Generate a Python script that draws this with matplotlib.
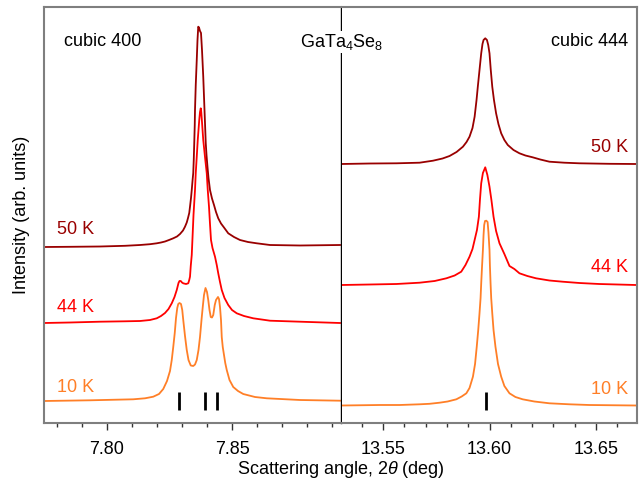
import matplotlib
matplotlib.use("Agg")
import matplotlib.pyplot as plt

plt.rcParams['font.family'] = ['Liberation Sans', 'DejaVu Sans']
plt.rcParams['mathtext.fontset'] = 'custom'
plt.rcParams['mathtext.rm'] = 'Liberation Sans'
plt.rcParams['mathtext.it'] = 'Liberation Sans:italic'

# ---- cubic 400 reflection ----
tth_400_10K = [7.7748, 7.7932, 7.8105, 7.8152, 7.8185, 7.8208, 7.8225, 7.8240, 7.8252, 7.8259,
               7.8265, 7.8271, 7.8276, 7.8281, 7.8285, 7.8290, 7.8296, 7.8301, 7.8305, 7.8312,
               7.8319, 7.8326, 7.8335, 7.8345, 7.8352, 7.8359, 7.8366, 7.8372, 7.8378, 7.8383,
               7.8388, 7.8394, 7.8400, 7.8405, 7.8410, 7.8415, 7.8420, 7.8425, 7.8431, 7.8436,
               7.8444, 7.8448, 7.8452, 7.8456, 7.8459, 7.8463, 7.8468, 7.8473, 7.8479, 7.8490,
               7.8505, 7.8524, 7.8545, 7.8592, 7.8639, 7.8772, 7.8932]
int_400_10K = [0, 0.7, 1.7, 2.7, 4.3, 7, 12, 20, 30, 41,
               54, 68, 83, 93, 97, 98, 97, 91, 81, 65,
               51, 41, 35.5, 35, 36.5, 41, 51, 64, 81, 94,
               106, 113, 109, 101, 91, 84, 83.5, 86, 96, 101,
               104, 102, 94, 81, 64, 54, 46, 38, 31, 21,
               14, 10, 7, 4, 2.7, 1, 0.3]

tth_400_44K = [7.7748, 7.7852, 7.7972, 7.8072, 7.8132, 7.8172, 7.8199, 7.8216, 7.8232, 7.8246,
               7.8259, 7.8270, 7.8279, 7.8286, 7.8290, 7.8295, 7.8300, 7.8305, 7.8316, 7.8325,
               7.8329, 7.8332, 7.8335, 7.8339, 7.8342, 7.8346, 7.8352, 7.8355, 7.8359, 7.8363,
               7.8366, 7.8369, 7.8372, 7.8375, 7.8377, 7.8380, 7.8385, 7.8392, 7.8399, 7.8403,
               7.8408, 7.8412, 7.8416, 7.8422, 7.8432, 7.8439, 7.8445, 7.8452, 7.8459, 7.8470,
               7.8485, 7.8500, 7.8519, 7.8548, 7.8585, 7.8652, 7.8772, 7.8932]
int_400_44K = [0, 0.5, 1.3, 1.7, 2, 3, 4.7, 7, 10, 14,
               19.7, 26, 33, 40, 42, 42, 40.5, 39.7, 39, 39.7,
               43, 46.3, 57, 68, 85, 108, 133, 150, 166.3, 183,
               193, 203, 211, 214.7, 211, 201, 183, 166, 149.7, 133,
               116.3, 99, 83, 75, 66.3, 58, 49.7, 41, 33, 25,
               18, 13, 9.7, 7, 4.7, 2.3, 1.3, 0]

tth_400_50K = [7.7748, 7.7852, 7.7972, 7.8072, 7.8132, 7.8172, 7.8199, 7.8216, 7.8232, 7.8248,
               7.8265, 7.8280, 7.8292, 7.8304, 7.8312, 7.8319, 7.8324, 7.8329, 7.8332, 7.8336,
               7.8339, 7.8342, 7.8345, 7.8347, 7.8349, 7.8351, 7.8352, 7.8355, 7.8359, 7.8362,
               7.8365, 7.8368, 7.8372, 7.8376, 7.8380, 7.8385, 7.8390, 7.8395, 7.8398, 7.8402,
               7.8406, 7.8412, 7.8420, 7.8428, 7.8436, 7.8445, 7.8456, 7.8468, 7.8485, 7.8508,
               7.8532, 7.8564, 7.8599, 7.8652, 7.8772, 7.8932]
int_400_50K = [-1, -0.8, -0.5, 0.2, 1, 1.8, 2.7, 3.5, 4.5, 6,
               7.7, 9.5, 12, 15.5, 19.3, 23.5, 28, 33, 39.3, 48,
               56, 65, 73, 86, 103, 121, 136, 161, 186, 206,
               219.3, 218.5, 215, 213, 196, 169.3, 136, 103, 91, 79,
               68, 56, 47.5, 41, 34, 27.7, 22.5, 18.5, 12.7, 9,
               6, 4, 2.7, 1, 0.5, 1]

# ---- cubic 444 reflection ----
tth_444_10K = [13.5304, 13.5484, 13.5577, 13.5671, 13.5718, 13.5765, 13.5803, 13.5844, 13.5869, 13.5891,
               13.5906, 13.5922, 13.5932, 13.5940, 13.5947, 13.5953, 13.5958, 13.5961, 13.5965, 13.5969,
               13.5972, 13.5975, 13.5979, 13.5985, 13.5991, 13.5995, 13.6000, 13.6002, 13.6005, 13.6008,
               13.6013, 13.6019, 13.6028, 13.6040, 13.6055, 13.6070, 13.6094, 13.6122, 13.6156, 13.6211,
               13.6282, 13.6376, 13.6469, 13.6689]
int_444_10K = [0, 0.5, 0.5, 1.2, 1.7, 2.8, 4, 6.2, 9, 12.2,
               17.5, 28.8, 41.5, 58.8, 75.5, 92.2, 107.5, 122.2, 139.5, 155.5,
               170.5, 180.5, 184.5, 184.8, 183.5, 173.5, 155.5, 139.5, 122.2, 107.5,
               92.2, 75.5, 58.8, 41.5, 28.8, 19.5, 12.2, 8.5, 6.2, 4,
               2.2, 1.2, 0.5, 0]

tth_444_44K = [13.5304, 13.5437, 13.5562, 13.5671, 13.5742, 13.5797, 13.5836, 13.5867, 13.5887, 13.5906,
               13.5920, 13.5930, 13.5941, 13.5950, 13.5955, 13.5961, 13.5969, 13.5980, 13.5990, 13.6000,
               13.6009, 13.6019, 13.6031, 13.6047, 13.6070, 13.6094, 13.6117, 13.6141, 13.6178, 13.6219,
               13.6282, 13.6344, 13.6423, 13.6516, 13.6689]
int_444_44K = [-0.5, 0, 0.5, 1.8, 3.5, 6.2, 9, 12.8, 19.5, 27.8,
               35.5, 44.5, 54.5, 67.8, 84.5, 101.2, 111.5, 117.2, 109.5, 97.8,
               84.5, 67.8, 53.5, 41.2, 30.5, 18.5, 15.5, 11.2, 8.5, 6.2,
               4, 2.8, 1.5, 0.5, -0.5]

tth_444_50K = [13.5304, 13.5437, 13.5562, 13.5671, 13.5734, 13.5779, 13.5812, 13.5845, 13.5875, 13.5892,
               13.5906, 13.5920, 13.5930, 13.5939, 13.5945, 13.5953, 13.5961, 13.5967, 13.5972, 13.5980,
               13.5988, 13.5994, 13.6000, 13.6006, 13.6013, 13.6021, 13.6031, 13.6042, 13.6055, 13.6070,
               13.6086, 13.6113, 13.6141, 13.6169, 13.6203, 13.6239, 13.6282, 13.6352, 13.6423, 13.6563,
               13.6689]
int_444_50K = [0, 0.5, 0.7, 1.3, 3.3, 5.5, 8, 12, 17.3, 22,
               27.3, 36, 47.3, 64, 77.3, 94, 110.7, 120, 124, 125.7,
               124, 119, 110.7, 94, 77.3, 64, 50.7, 40, 30.7, 24,
               19, 14, 10.7, 8.5, 6.7, 4.5, 2.3, 1.3, 0.7, 0.2,
               0]

# calculated reflection positions (low-T phase)
bragg_400 = [7.8286, 7.8392, 7.8441]
bragg_444 = [13.5985]

temps = ['10 K', '44 K', '50 K']
colors = ['#ff7f27', '#ff0000', '#990000']
offs_400 = [22, 100, 177]
offs_444 = [17.5, 138.5, 259]

fig = plt.figure(figsize=(6.41, 4.91), dpi=100)
W, H = 641, 491
ax1 = fig.add_axes([44 / W, 68 / H, 297 / W, 416 / H])
ax2 = fig.add_axes([342 / W, 68 / H, 295 / W, 416 / H])

curves_400 = [(tth_400_10K, int_400_10K), (tth_400_44K, int_400_44K), (tth_400_50K, int_400_50K)]
curves_444 = [(tth_444_10K, int_444_10K), (tth_444_44K, int_444_44K), (tth_444_50K, int_444_50K)]

for (x, y), c, o in zip(curves_400, colors, offs_400):
    ax1.plot(x, [v + o for v in y], color=c, lw=1.3, solid_joinstyle='round')
for (x, y), c, o in zip(curves_444, colors, offs_444):
    ax2.plot(x, [v + o for v in y], color=c, lw=1.3, solid_joinstyle='round')

ax1.vlines(bragg_400, 13, 31, color='black', lw=2)
ax2.vlines(bragg_444, 13, 31, color='black', lw=2)

ax1.set_xlim(7.7748, 7.8936)
ax2.set_xlim(13.5306, 13.6694)
for ax in (ax1, ax2):
    ax.set_ylim(0, 416)
    ax.set_yticks([])
    ax.tick_params(axis='x', which='major', direction='out', length=5, width=1,
                   labelsize=13, pad=8, color='#333333')
    ax.tick_params(axis='x', which='minor', direction='out', length=3, width=1, color='#333333')
    for s in ax.spines.values():
        s.set_color('#7f7f7f')
        s.set_linewidth(1.5)

ax1.set_xticks([7.80, 7.85])
ax1.set_xticklabels(['7.80', '7.85'])
ax1.set_xticks([7.78 + 0.01 * i for i in range(12)], minor=True)
ax2.set_xticks([13.55, 13.60, 13.65])
ax2.set_xticklabels(['13.55', '13.60', '13.65'])
ax2.set_xticks([13.54 + 0.01 * i for i in range(13)], minor=True)

ax1.spines['right'].set_color('black')
ax1.spines['right'].set_linewidth(1.0)
ax2.spines['left'].set_visible(False)

# temperature labels
lab_y_400 = [36, 116, 193]
lab_y_444 = [34, 155, 276]
for t, c, yy in zip(temps, colors, lab_y_400):
    ax1.text(7.7800, yy, t, color=c, fontsize=13, va='center', ha='left')
for t, c, yy in zip(temps, colors, lab_y_444):
    ax2.text(13.6650, yy, t, color=c, fontsize=13, va='center', ha='right')

ax1.text(7.7828, 381, 'cubic 400', fontsize=13, va='center', ha='left')
ax2.text(13.6650, 381, 'cubic 444', fontsize=13, va='center', ha='right')
fig.text(342 / W, 1 - 42 / H, 'GaTa$_4$Se$_8$', fontsize=13, ha='center', va='center',
         bbox=dict(facecolor='white', edgecolor='none', pad=1))

fig.text(341 / W, 1 - 470 / H, 'Scattering angle, 2$\\mathit{\\theta}$ (deg)', fontsize=13,
         ha='center', va='center')
fig.text(22 / W, 1 - 215 / H, 'Intensity (arb. units)', fontsize=13, rotation=90,
         ha='center', va='center')

fig.savefig('out.png', dpi=100)
